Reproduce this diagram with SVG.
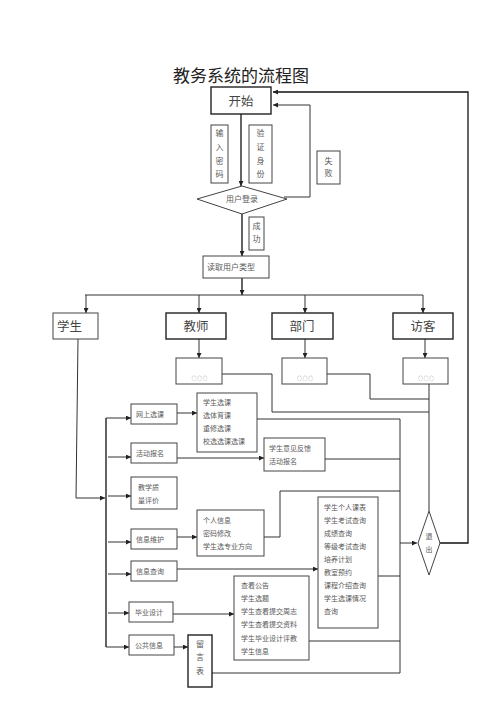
<svg xmlns="http://www.w3.org/2000/svg" width="500" height="708" viewBox="0 0 500 708">
<defs>
<marker id="ah" viewBox="0 0 10 10" refX="10" refY="5" markerWidth="5" markerHeight="5" orient="auto" markerUnits="userSpaceOnUse">
<path d="M0,0 L10,5 L0,10 z" fill="#222"/>
</marker>
</defs>
<style>
text{font-family:"Noto Sans CJK SC","Liberation Sans",sans-serif;fill:#5a5a5a}
.title{font-size:17px;fill:#222}
.big{font-size:12.5px;fill:#444}
.t8{font-size:8px}
.t7{font-size:7px}
.box{fill:#fff;stroke:#444;stroke-width:1}
.hbox{fill:#fff;stroke:#222;stroke-width:1.4}
.ln{fill:none;stroke:#333;stroke-width:1}
.lnd{fill:none;stroke:#111;stroke-width:1.3}
.mid{text-anchor:middle}
.dots{font-size:4.5px;fill:#666;letter-spacing:1px}
</style>
<rect width="500" height="708" fill="#fff"/>
<text class="title" x="173" y="82">教务系统的流程图</text>

<g id="connectors">
<path class="lnd" d="M241,114 L241,186" marker-end="url(#ah)"/>
<path class="lnd" d="M242,214 L242,256" marker-end="url(#ah)"/>
<path class="lnd" d="M242,278 L242,295" marker-end="url(#ah)"/>
<path class="ln" d="M85,295 L423,295"/>
<path class="ln" d="M86,295 L86,313" marker-end="url(#ah)"/>
<path class="ln" d="M199,295 L199,313" marker-end="url(#ah)"/>
<path class="ln" d="M305,295 L305,313" marker-end="url(#ah)"/>
<path class="ln" d="M423,295 L423,313" marker-end="url(#ah)"/>
<path class="ln" d="M199,339 L199,358" marker-end="url(#ah)"/>
<path class="ln" d="M305,339 L305,358" marker-end="url(#ah)"/>
<path class="ln" d="M425,339 L425,358" marker-end="url(#ah)"/>
<path class="ln" d="M284,197 L310,197 L310,105 L273,105" marker-end="url(#ah)"/>
<path class="lnd" d="M439,543 L468,543 L468,92 L273,92" marker-end="url(#ah)"/>
<path class="ln" d="M222,374 L272,374 L272,412 L429,412"/>
<path class="ln" d="M327,374 L370,374 L370,399 L429,399"/>
<path class="ln" d="M429,384 L429,511"/>
<path class="ln" d="M78,339 L76,498 L105,498" marker-end="url(#ah)"/>
<path class="lnd" d="M106,418 L106,647"/>
<path class="ln" d="M106,418 L131,418" marker-end="url(#ah)"/>
<path class="ln" d="M108,457 L131,457" marker-end="url(#ah)"/>
<path class="ln" d="M108,496 L131,496" marker-end="url(#ah)"/>
<path class="ln" d="M108,542 L131,542" marker-end="url(#ah)"/>
<path class="ln" d="M108,574 L131,574" marker-end="url(#ah)"/>
<path class="ln" d="M108,613 L129,613" marker-end="url(#ah)"/>
<path class="ln" d="M106,647 L129,647" marker-end="url(#ah)"/>
<path class="ln" d="M177,413 L197,413" marker-end="url(#ah)"/>
<path class="ln" d="M177,458 L264,458" marker-end="url(#ah)"/>
<path class="ln" d="M177,537 L197,537" marker-end="url(#ah)"/>
<path class="ln" d="M177,569 L318,569" marker-end="url(#ah)"/>
<path class="ln" d="M173,614 L234,614" marker-end="url(#ah)"/>
<path class="ln" d="M174,647 L188,647" marker-end="url(#ah)"/>
<path class="ln" d="M257,419 L400,419"/>
<path class="ln" d="M325,459 L400,459"/>
<path class="ln" d="M264,537 L280,537 L280,491 L400,491"/>
<path class="ln" d="M378,576 L400,576"/>
<path class="ln" d="M309,641 L400,641"/>
<path class="ln" d="M212,673 L400,673"/>
<path class="ln" d="M400,419 L400,673"/>
<path class="ln" d="M400,543 L417,543" marker-end="url(#ah)"/>
</g>

<g id="start"><rect class="hbox" x="211" y="87" width="60" height="27"/><text class="big mid" x="241" y="106">开始</text></g>
<g id="input-pwd"><rect class="box" x="211" y="125" width="17" height="58"/>
<text class="t8 mid" x="219.5" y="136">输</text><text class="t8 mid" x="219.5" y="150">入</text><text class="t8 mid" x="219.5" y="164">密</text><text class="t8 mid" x="219.5" y="177">码</text></g>
<g id="verify"><rect class="box" x="249" y="125" width="23" height="58"/>
<text class="t8 mid" x="260.5" y="136">验</text><text class="t8 mid" x="260.5" y="150">证</text><text class="t8 mid" x="260.5" y="164">身</text><text class="t8 mid" x="260.5" y="177">份</text></g>
<g id="fail"><rect class="box" x="317" y="151" width="23" height="33"/>
<text class="t8 mid" x="328.5" y="164">失</text><text class="t8 mid" x="328.5" y="176">败</text></g>
<g id="login"><polygon class="box" points="197,199 242,186 287,199 242,214"/><text class="t8 mid" x="242" y="202">用户登录</text></g>
<g id="success"><rect class="box" x="249" y="217" width="15" height="33"/>
<text class="t8 mid" x="256.5" y="229">成</text><text class="t8 mid" x="256.5" y="242">功</text></g>
<g id="read-type"><rect class="box" x="203" y="256" width="66" height="22"/><text class="t8" x="207" y="270">读取用户类型</text></g>

<g id="student"><rect class="box" x="53" y="313" width="45" height="26"/><text class="big" x="57" y="331">学生</text></g>
<g id="teacher"><rect class="hbox" x="166" y="313" width="60" height="26"/><text class="big mid" x="196" y="331">教师</text></g>
<g id="dept"><rect class="hbox" x="272" y="313" width="61" height="26"/><text class="big mid" x="302" y="331">部门</text></g>
<g id="visitor"><rect class="hbox" x="393" y="313" width="60" height="26"/><text class="big mid" x="423" y="331">访客</text></g>

<g id="teacher-dots"><rect class="box" x="176" y="358" width="46" height="26"/><text class="dots mid" x="200" y="380">○○○</text></g>
<g id="dept-dots"><rect class="box" x="282" y="358" width="45" height="26"/><text class="dots mid" x="305.5" y="380">○○○</text></g>
<g id="visitor-dots"><rect class="box" x="403" y="358" width="45" height="26"/><text class="dots mid" x="426.5" y="380">○○○</text></g>

<g id="online-course"><rect class="box" x="131" y="404" width="46" height="20"/><text class="t7" x="136" y="417">网上选课</text></g>
<g id="activity"><rect class="box" x="131" y="443" width="46" height="20"/><text class="t7" x="136" y="456">活动报名</text></g>
<g id="evaluation"><rect class="box" x="131" y="477" width="46" height="32"/><text class="t7" x="138" y="490">教学质</text><text class="t7" x="138" y="503">量评价</text></g>
<g id="info-maint"><rect class="box" x="131" y="529" width="46" height="20"/><text class="t7" x="136" y="542">信息维护</text></g>
<g id="info-query"><rect class="box" x="131" y="561" width="46" height="20"/><text class="t7" x="136" y="574">信息查询</text></g>
<g id="graduation"><rect class="box" x="129" y="602" width="44" height="20"/><text class="t7" x="135" y="615">毕业设计</text></g>
<g id="public-info"><rect class="box" x="129" y="635" width="45" height="20"/><text class="t7" x="135" y="648">公共信息</text></g>

<g id="course-list"><rect class="box" x="197" y="393" width="60" height="59"/>
<text class="t7" x="203" y="405">学生选课</text><text class="t7" x="203" y="418">选体育课</text><text class="t7" x="203" y="431">重修选课</text><text class="t7" x="203" y="444">校选选课选课</text></g>
<g id="feedback"><rect class="box" x="264" y="438" width="61" height="33"/>
<text class="t7" x="269" y="451">学生意见反馈</text><text class="t7" x="269" y="464">活动报名</text></g>
<g id="personal"><rect class="box" x="197" y="510" width="67" height="46"/>
<text class="t7" x="203" y="523">个人信息</text><text class="t7" x="203" y="536">密码修改</text><text class="t7" x="203" y="549">学生选专业方向</text></g>
<g id="query-list"><rect class="box" x="318" y="497" width="60" height="131"/>
<text class="t7" x="324" y="510">学生个人课表</text><text class="t7" x="324" y="523">学生考试查询</text><text class="t7" x="324" y="536">成绩查询</text><text class="t7" x="324" y="549">等级考试查询</text><text class="t7" x="324" y="562">培养计划</text><text class="t7" x="324" y="575">教室预约</text><text class="t7" x="324" y="588">课程介绍查询</text><text class="t7" x="324" y="601">学生选课情况</text><text class="t7" x="324" y="614">查询</text></g>
<g id="grad-list"><rect class="box" x="234" y="576" width="75" height="84"/>
<text class="t7" x="241" y="588">查看公告</text><text class="t7" x="241" y="601">学生选题</text><text class="t7" x="241" y="614">学生查看提交周志</text><text class="t7" x="241" y="627">学生查看提交资料</text><text class="t7" x="241" y="641">学生毕业设计评教</text><text class="t7" x="241" y="654">学生信息</text></g>
<g id="message"><rect class="hbox" x="188" y="635" width="24" height="52"/>
<text class="t8 mid" x="200" y="647">留</text><text class="t8 mid" x="200" y="660">言</text><text class="t8 mid" x="200" y="674">表</text></g>
<g id="exit"><polygon class="box" points="429,511 440,543 429,575 418,543"/>
<text class="t7 mid" x="429" y="539">退</text><text class="t7 mid" x="429" y="552">出</text></g>
</svg>
